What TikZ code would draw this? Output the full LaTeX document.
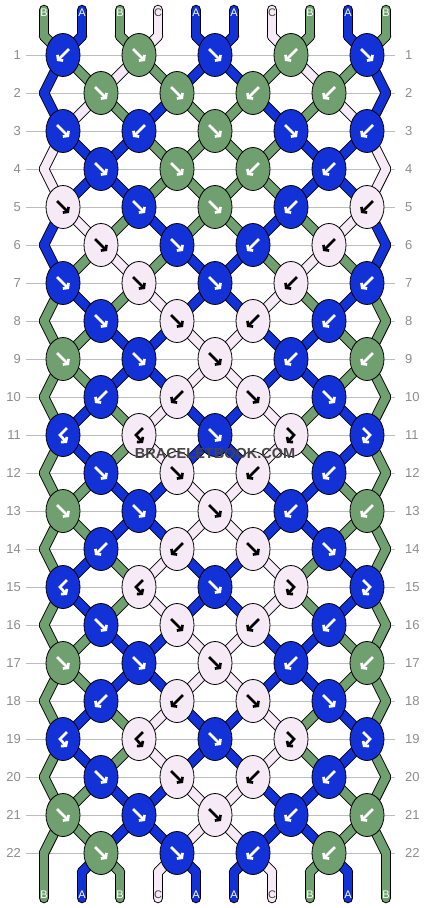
\documentclass[tikz,border=0pt]{standalone}
\usepackage{fontspec}
\setsansfont{Liberation Sans}
\usetikzlibrary{shapes}
\usetikzlibrary{arrows.meta}

\definecolor{strA}{HTML}{1232D8}
\definecolor{strB}{HTML}{70A070}
\definecolor{strC}{HTML}{F6EAF6}
\definecolor{rowgray}{HTML}{BDBDBD}
\definecolor{numgray}{HTML}{8C8C8C}
\definecolor{markgray}{HTML}{444444}

% string colours, row by row (row 0 = the top ends)
\def\strandorder{0/{B,A,B,C,A,A,C,B,A,B},1/{A,B,C,B,A,A,B,C,B,A},2/{A,C,B,A,B,B,A,B,C,A},
  3/{C,A,A,B,B,B,B,A,A,C},4/{C,A,A,B,B,B,B,A,A,C},5/{A,C,B,A,B,B,A,B,C,A},
  6/{A,B,C,B,A,A,B,C,B,A},7/{B,A,B,C,A,A,C,B,A,B},8/{B,B,A,A,C,C,A,A,B,B},
  9/{B,B,A,A,C,C,A,A,B,B},10/{B,A,B,C,A,A,C,B,A,B},11/{B,A,B,C,A,A,C,B,A,B},
  12/{B,B,A,A,C,C,A,A,B,B},13/{B,B,A,A,C,C,A,A,B,B},14/{B,A,B,C,A,A,C,B,A,B},
  15/{B,A,B,C,A,A,C,B,A,B},16/{B,B,A,A,C,C,A,A,B,B},17/{B,B,A,A,C,C,A,A,B,B},
  18/{B,A,B,C,A,A,C,B,A,B},19/{B,A,B,C,A,A,C,B,A,B},20/{B,B,A,A,C,C,A,A,B,B},
  21/{B,B,A,A,C,C,A,A,B,B},22/{B,A,B,C,A,A,C,B,A,B}}

% knot type / knot colour
\def\knotrows{1/{b/A,f/B,f/A,b/B,f/A},2/{f/B,f/B,b/B,b/B},3/{f/A,b/A,f/B,f/A,b/A},
  4/{f/A,f/B,b/B,b/A},5/{f/C,f/A,f/B,b/A,b/C},6/{f/C,f/A,b/A,b/C},
  7/{f/A,f/C,f/A,b/C,b/A},8/{f/A,f/C,b/C,b/A},9/{f/B,f/A,f/C,b/A,b/B},
  10/{b/A,b/C,f/C,f/A},11/{bf/A,bf/C,f/A,fb/C,fb/A},12/{f/A,f/C,b/C,b/A},
  13/{f/B,f/A,f/C,b/A,b/B},14/{b/A,b/C,f/C,f/A},15/{bf/A,bf/C,f/A,fb/C,fb/A},
  16/{f/A,f/C,b/C,b/A},17/{f/B,f/A,f/C,b/A,b/B},18/{b/A,b/C,f/C,f/A},
  19/{bf/A,bf/C,f/A,fb/C,fb/A},20/{f/A,f/C,b/C,b/A},21/{f/B,f/A,f/C,b/A,b/B},
  22/{f/B,f/A,b/A,b/B}}

\newcommand\strands[1]{%
  \foreach \r/\o in \strandorder {%
    \pgfmathtruncatemacro{\rn}{\r+1}%
    \foreach \c [count=\i from 0] in \o
      \draw[str\c,#1] (p-\r-\i) -- (p-\rn-\i);
  }%
  \foreach \c [count=\i from 0] in {B,A,B,C,A,A,C,B,A,B} {%
    \draw[str\c,#1] (t-\i) -- (p-0-\i);
    \draw[str\c,#1] (p-23-\i) -- (b-\i);
  }%
}

\begin{document}
\begin{tikzpicture}[x=1pt,y=-1pt,font=\sffamily]
  \tikzstyle{knotnode}=[draw=black, line width=0.8pt, ellipse, minimum width=34pt, minimum height=43pt, inner sep=0pt]
  \tikzstyle{knotarrow}=[line width=2.7pt, -{Straight Barb[length=3pt,width=8pt]}]
  \tikzstyle{rownum}=[numgray, inner ysep=0pt, font=\sffamily\fontsize{13}{13}\selectfont]
  \tikzstyle{rowline}=[rowgray, line width=0.9pt]
  \tikzstyle{letter}=[inner sep=0pt, font=\sffamily\fontsize{11}{11}\selectfont]
  \tikzstyle{arrA}=[white]
  \tikzstyle{arrB}=[white]
  \tikzstyle{arrC}=[black]
  \tikzstyle{labA}=[white]
  \tikzstyle{labB}=[white]
  \tikzstyle{labC}=[markgray]
  \tikzset{
    arr-f/.pic={\draw[knotarrow] (-6,-6) -- (6,6);},
    arr-b/.pic={\draw[knotarrow] (6,-6) -- (-6,6);},
    arr-fb/.pic={\draw[knotarrow] (-4,-7) -- (3,0) -- (-4,8);},
    arr-bf/.pic={\draw[knotarrow] (4,-7) -- (-3,0) -- (4,8);}
  }
  \useasboundingbox (0,0) rectangle (430,908);

  % row numbers and guide lines
  \foreach \r in {1,...,22} {
    \node[rownum, anchor=east, inner xsep=5pt] (ln-\r) at (26,{55+38*(\r-1)}) {\r};
    \node[rownum, anchor=west, inner xsep=10pt] (rn-\r) at (395,{55+38*(\r-1)}) {\r};
    \draw[rowline] (ln-\r) -- (rn-\r);
  }

  % points where the strings meet
  \foreach \r in {1,...,22} {
    \foreach \i in {0,...,9} {
      \pgfmathtruncatemacro{\edge}{(mod(\r,2)==0)*((\i==0)+(\i==9))}
      \pgfmathtruncatemacro{\px}{44+38*\i+19*(2*mod(\r+\i,2)-1)*(1-\edge)}
      \coordinate (p-\r-\i) at (\px,{55+38*(\r-1)});
    }
  }
  \foreach \i in {0,...,9} {
    \coordinate (t-\i) at ({44+38*\i},10);
    \coordinate (p-0-\i) at ({44+38*\i},36);
    \coordinate (p-23-\i) at ({44+38*\i},872);
    \coordinate (b-\i) at ({44+38*\i},898);
  }

  % strings: outline first, colour on top
  \strands{draw=black, line width=10.5pt, line cap=round}
  \strands{line width=8.6pt, line cap=round}

  % knots
  \foreach \r/\ks in \knotrows {
    \pgfmathtruncatemacro{\odd}{mod(\r,2)}
    \foreach \t/\c [count=\k from 0] in \ks {
      \node[knotnode, fill=str\c] (kn-\r-\k) at ({101-38*\odd+76*\k},{55+38*(\r-1)}) {};
      \pic[arr\c] at (kn-\r-\k) {arr-\t};
    }
  }

  % string letters
  \foreach \c [count=\i from 0] in {B,A,B,C,A,A,C,B,A,B} {
    \node[letter, lab\c] (top-\i) at ({44+38*\i},13) {\c};
    \node[letter, lab\c] (bot-\i) at ({44+38*\i},895) {\c};
  }

  \node[markgray, font=\sffamily\bfseries\fontsize{14.5}{14.5}\selectfont] (mark) at (215,454) {BRACELETBOOK.COM};
\end{tikzpicture}
\end{document}
